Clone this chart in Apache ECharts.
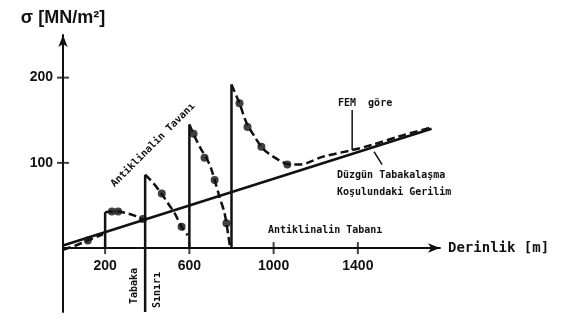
<!DOCTYPE html>
<html>
<head>
<meta charset="utf-8">
<script src="https://cdn.jsdelivr.net/npm/echarts@6/dist/echarts.min.js"></script>
<style>
  html, body { margin: 0; padding: 0; background: #fff; }
  #chart { width: 571px; height: 322px; }
</style>
</head>
<body>
<div id="chart"></div>
<script>
// tick labels
const depthTicks = [200, 600, 1000, 1400];
const stressTicks = [100, 200];

// stress under uniform layering (straight line)
const uniformLine = [[0, 3], [1750, 140]];

// FEM curve, one piece per layer
const femPart1 = [[0, -2], [60, 3], [118, 9], [190, 16]];
const femPart2 = [[200, 42], [232, 43], [262, 43], [300, 41], [340, 38], [385, 33]];
const femPart3 = [[390, 86], [430, 76], [470, 63], [500, 52], [530, 41], [563, 25], [592, 15]];
const femPart4 = [[600, 145], [625, 131], [658, 115], [681, 106], [705, 92], [743, 60], [767, 41], [786, 13], [792, 3]];
const femPart5 = [[800, 192], [824, 178], [838, 170], [871, 147], [909, 131], [942, 119], [970, 112],
  [1027, 103], [1075, 98], [1122, 98], [1160, 100], [1231, 107], [1373, 115], [1467, 121], [1595, 131], [1740, 141]];

// dots on the FEM curve
const femDots = [[118, 9], [232, 43], [262, 43], [379, 34], [469, 64], [563, 25], [620, 134], [672, 106],
  [720, 80], [776, 29], [838, 170], [876, 142], [942, 119], [1065, 98]];

// vertical jumps at layer boundaries: depth, from, to
const jumps = [[200, 0, 42], [390, -75, 86], [600, 0, 145], [800, 0, 192]];

// leader lines of the notes
const femLeader = [[1373, 162], [1373, 115]];
const uniformLeader = [[1477, 113], [1515, 98]];

const chart = echarts.init(document.getElementById("chart"));

const ink = "#111";
const mono = "DejaVu Sans Mono";

const femSeries = [femPart1, femPart2, femPart3, femPart4, femPart5].map((d) => ({
  type: "line",
  data: d,
  smooth: 0.3,
  symbol: "none",
  lineStyle: { color: ink, width: 2.5, type: [8, 4] },
  z: 3,
}));

const jumpSeries = jumps.map((j) => ({
  type: "line",
  data: [[j[0], j[1]], [j[0], j[2]]],
  symbol: "none",
  lineStyle: { color: ink, width: 2.5 },
  z: 3,
}));

chart.setOption({
  animation: false,
  backgroundColor: "#fff",
  grid: { left: 63, right: 131, top: 35, bottom: 10, outerBoundsMode: "none" },
  xAxis: {
    type: "value",
    min: 0,
    max: 1790,
    // sit on sigma = 0 instead of the grid bottom
    offset: -64,
    name: "Derinlik [m]",
    nameLocation: "end",
    nameGap: 8,
    nameTextStyle: { color: ink, fontFamily: mono, fontWeight: "bold", fontSize: 14 },
    axisLine: { onZero: false, symbol: ["none", "arrow"], symbolSize: [7, 12], lineStyle: { color: ink, width: 2 } },
    axisTick: { show: false },
    splitLine: { show: false },
    axisLabel: {
      customValues: depthTicks,
      formatter: (v) => String(v),
      color: ink,
      fontFamily: "Liberation Sans",
      fontWeight: "bold",
      fontSize: 14,
      margin: 11,
    },
  },
  yAxis: {
    type: "value",
    min: -75,
    max: 250,
    name: "σ [MN/m²]",
    nameLocation: "end",
    nameGap: 8,
    nameTextStyle: { color: ink, fontFamily: "Liberation Sans", fontWeight: "bold", fontSize: 18, align: "center" },
    axisLine: { symbol: ["none", "arrow"], symbolSize: [7, 12], lineStyle: { color: ink, width: 2 } },
    axisTick: { show: false },
    splitLine: { show: false },
    axisLabel: {
      customValues: stressTicks,
      color: ink,
      fontFamily: "Liberation Sans",
      fontWeight: "bold",
      fontSize: 14,
      margin: 10,
    },
  },
  series: [
    {
      type: "line",
      data: uniformLine,
      symbol: "none",
      lineStyle: { color: ink, width: 2.5 },
      z: 2,
    },
    ...femSeries,
    ...jumpSeries,
    {
      type: "scatter",
      data: femDots,
      symbol: "circle",
      symbolSize: 8,
      itemStyle: { color: ink },
      z: 4,
    },
    // tick crosses on the axes
    {
      type: "scatter",
      data: depthTicks.map((d) => [d, 0]),
      symbol: "rect",
      symbolSize: [2, 12],
      itemStyle: { color: ink },
    },
    {
      type: "scatter",
      data: stressTicks.map((s) => [0, s]),
      symbol: "rect",
      symbolSize: [12, 2],
      itemStyle: { color: ink },
    },
    {
      type: "line",
      data: femLeader,
      symbol: "none",
      lineStyle: { color: ink, width: 1.5 },
    },
    {
      type: "line",
      data: uniformLeader,
      symbol: "none",
      lineStyle: { color: ink, width: 1.5 },
    },
  ],
  graphic: [
    {
      type: "text",
      x: 153, y: 145, rotation: Math.PI / 4,
      style: { text: "Antiklinalin Tavanı", fill: ink, font: "bold 10px " + mono, align: "center", verticalAlign: "middle" },
    },
    {
      type: "text",
      x: 268, y: 230,
      style: { text: "Antiklinalin Tabanı", fill: ink, font: "bold 10px " + mono, verticalAlign: "middle" },
    },
    {
      type: "text",
      x: 338, y: 103,
      style: { text: "FEM  göre", fill: ink, font: "bold 10px " + mono, verticalAlign: "middle" },
    },
    {
      type: "text",
      x: 337, y: 167,
      style: { text: "Düzgün Tabakalaşma\nKoşulundaki Gerilim", fill: ink, font: "bold 10px " + mono, lineHeight: 17, verticalAlign: "top" },
    },
    {
      type: "text",
      x: 134, y: 286, rotation: Math.PI / 2,
      style: { text: "Tabaka", fill: ink, font: "bold 10px " + mono, align: "center", verticalAlign: "middle" },
    },
    {
      type: "text",
      x: 157, y: 290, rotation: Math.PI / 2,
      style: { text: "Sınırı", fill: ink, font: "bold 10px " + mono, align: "center", verticalAlign: "middle" },
    },
  ],
});
</script>
</body>
</html>
